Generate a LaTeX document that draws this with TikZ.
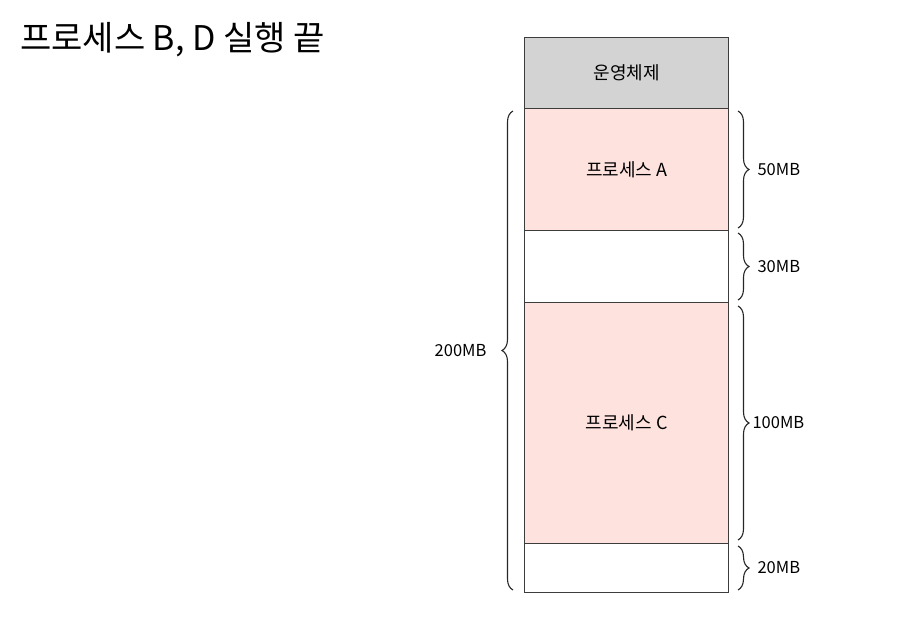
\documentclass[tikz,border=0pt]{standalone}
\usepackage{fontspec}
\setmainfont{Noto Sans CJK KR}
\newfontfamily\krfont{Noto Sans CJK KR}
\newfontfamily\titlefont{Noto Sans CJK KR}
\usetikzlibrary{decorations.pathreplacing}
\definecolor{osgray}{RGB}{211,211,211}
\definecolor{procpink}{RGB}{253,226,222}
\definecolor{edge}{RGB}{60,60,60}
\tikzset{
  memblock/.style={draw=edge, line width=1.3pt, minimum width=204pt, anchor=north west, inner sep=0pt, font=\krfont\fontsize{18}{22}\selectfont},
  bracestyle/.style={draw=black!85, line width=1.1pt, decorate, decoration={brace, amplitude=11pt}},
  sizelabel/.style={font=\krfont\fontsize{16.5}{20}\selectfont, anchor=west, inner sep=0pt}
}
\begin{document}
\begin{tikzpicture}[x=1pt,y=-1pt]
\useasboundingbox (0,0) rectangle (898,644);
\node[anchor=west, inner sep=0pt, font=\titlefont\fontsize{34}{40}\selectfont] (title) at (20,40) {프로세스 B, D 실행 끝};
\node[memblock, fill=osgray, minimum height=71pt] (os) at (524,37) {운영체제};
\node[memblock, fill=procpink, minimum height=122pt] (pa) at (524,108) {프로세스 A};
\node[memblock, fill=white, minimum height=72pt] (g1) at (524,230) {};
\node[memblock, fill=procpink, minimum height=241pt] (pc) at (524,302) {프로세스 C};
\node[memblock, fill=white, minimum height=49pt] (g2) at (524,543) {};
% right braces
\coordinate (a1) at (738,111); \coordinate (a2) at (738,228);
\coordinate (b1) at (738,233); \coordinate (b2) at (738,300);
\coordinate (c1) at (738,306); \coordinate (c2) at (738,540);
\coordinate (d1) at (738,546); \coordinate (d2) at (738,590);
\draw[bracestyle] (a1) -- (a2) node[midway, xshift=19pt, sizelabel] (la) {50MB};
\draw[bracestyle] (b1) -- (b2) node[midway, xshift=19pt, sizelabel] (lb) {30MB};
\draw[bracestyle] (c1) -- (c2) node[midway, xshift=14pt, sizelabel] (lc) {100MB};
\draw[bracestyle] (d1) -- (d2) node[midway, xshift=19pt, sizelabel] (ld) {20MB};
% left brace
\coordinate (e1) at (513,590); \coordinate (e2) at (513,111);
\draw[bracestyle] (e1) -- (e2) node[midway, xshift=-26pt, anchor=east, inner sep=0pt, font=\krfont\fontsize{16.5}{20}\selectfont] (le) {200MB};
\end{tikzpicture}
\end{document}
